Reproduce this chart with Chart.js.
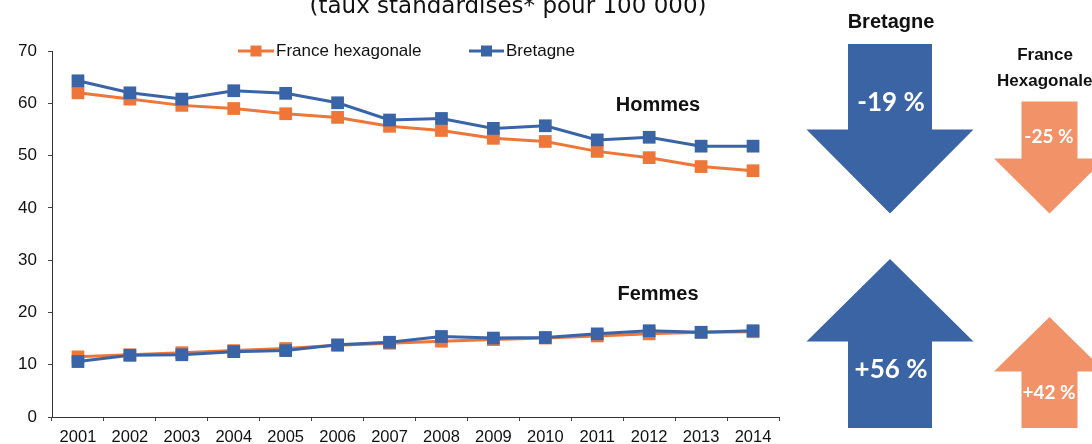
<!DOCTYPE html>
<html>
<head>
<meta charset="utf-8">
<script src="https://cdn.jsdelivr.net/npm/chart.js@4/dist/chart.umd.min.js"></script>
<style>
  html, body { margin: 0; padding: 0; background: #fff; }
  #wrap { position: relative; width: 1092px; height: 444px; overflow: hidden; }
</style>
</head>
<body>
<div id="wrap"><canvas id="myChart" width="1092" height="444"></canvas></div>
<script>
const years = ["2001", "2002", "2003", "2004", "2005", "2006", "2007", "2008", "2009", "2010", "2011", "2012", "2013", "2014"];
const franceHommes = [62.0, 60.8, 59.6, 59.0, 58.0, 57.3, 55.6, 54.8, 53.3, 52.7, 50.8, 49.6, 47.9, 47.1];
const bretagneHommes = [64.3, 62.0, 60.8, 62.4, 61.9, 60.1, 56.8, 57.1, 55.2, 55.7, 53.0, 53.5, 51.8, 51.8];
const franceFemmes = [11.5, 11.9, 12.3, 12.7, 13.1, 13.7, 14.1, 14.5, 14.8, 15.1, 15.5, 15.9, 16.2, 16.3];
const bretagneFemmes = [10.6, 11.8, 11.9, 12.5, 12.7, 13.8, 14.3, 15.4, 15.1, 15.2, 15.9, 16.5, 16.2, 16.5];
const yTicks = [0, 10, 20, 30, 40, 50, 60, 70];
const seriesNames = ["France hexagonale", "Bretagne"];
const evolBretagne = ["-19 %", "+56 %"];
const evolFrance = ["-25 %", "+42 %"];

const orange = "rgb(237, 118, 56)";
const blue = "rgb(58, 100, 168)";
const arrowBlue = "rgb(58, 100, 164)";
const arrowOrange = "rgb(242, 146, 104)";
const axisFont = "'Liberation Sans', Arial, sans-serif";

function lineSet(label, values, color) {
  return {
    label: label,
    data: values,
    borderColor: color,
    backgroundColor: color,
    borderWidth: 3,
    pointStyle: "rect",
    pointRadius: 9,
    pointHoverRadius: 9,
    pointBorderWidth: 0,
    tension: 0,
  };
}

// arrow: cx centre, tail y, head base y, tip y
function drawArrow(ctx, cx, shaftHalf, headHalf, tailY, baseY, tipY, color) {
  ctx.beginPath();
  ctx.moveTo(cx - shaftHalf, tailY);
  ctx.lineTo(cx + shaftHalf, tailY);
  ctx.lineTo(cx + shaftHalf, baseY);
  ctx.lineTo(cx + headHalf, baseY);
  ctx.lineTo(cx, tipY);
  ctx.lineTo(cx - headHalf, baseY);
  ctx.lineTo(cx - shaftHalf, baseY);
  ctx.closePath();
  ctx.fillStyle = color;
  ctx.fill();
}

const extras = {
  id: "extras",
  afterDraw(chart) {
    const ctx = chart.ctx;
    ctx.save();
    // title, cut at the top of the picture
    ctx.fillStyle = "#111";
    ctx.font = "23px 'DejaVu Sans', sans-serif";
    ctx.textAlign = "center";
    ctx.textBaseline = "alphabetic";
    ctx.fillText("(taux standardisés* pour 100 000)", 508, 13);

    // legend
    const legend = [[seriesNames[0], orange, 238, 274], [seriesNames[1], blue, 469, 504]];
    ctx.font = "17px " + axisFont;
    ctx.textAlign = "left";
    ctx.textBaseline = "middle";
    legend.forEach(function (l) {
      ctx.strokeStyle = l[1];
      ctx.lineWidth = 3;
      ctx.beginPath();
      ctx.moveTo(l[2], 51);
      ctx.lineTo(l[3], 51);
      ctx.stroke();
      ctx.fillStyle = l[1];
      const mid = (l[2] + l[3]) / 2;
      ctx.fillRect(mid - 5.5, 45.5, 11, 11);
      ctx.fillStyle = "#111";
      ctx.fillText(l[0], l[3] + 2, 51);
    });

    ctx.font = "bold 20px " + axisFont;
    ctx.textAlign = "center";
    ctx.fillStyle = "#111";
    ctx.fillText("Hommes", 658, 105);
    ctx.fillText("Femmes", 658, 294);

    // arrows
    drawArrow(ctx, 890, 42, 83.5, 44, 129.5, 213.5, arrowBlue);
    drawArrow(ctx, 890, 42, 83.5, 428, 341.5, 259, arrowBlue);
    drawArrow(ctx, 1049.5, 28, 55.5, 101.5, 158.5, 213.5, arrowOrange);
    drawArrow(ctx, 1049.5, 28, 55.5, 428, 371.5, 317, arrowOrange);

    ctx.fillStyle = "#111";
    ctx.font = "bold 20px 'Liberation Sans Narrow', 'Liberation Sans', sans-serif";
    ctx.fillText("Bretagne", 891, 22);
    ctx.font = "bold 17px 'Liberation Sans Narrow', 'Liberation Sans', sans-serif";
    ctx.fillText("France", 1045, 55);
    ctx.textAlign = "left";
    ctx.fillText("Hexagonale", 997, 81);

    ctx.textAlign = "center";
    ctx.fillStyle = "#fff";
    ctx.font = "bold 26px Lato, 'Open Sans', sans-serif";
    ctx.fillText(evolBretagne[0], 891, 103);
    ctx.fillText(evolBretagne[1], 891, 370);
    ctx.font = "bold 19px Lato, 'Open Sans', sans-serif";
    ctx.fillText(evolFrance[0], 1049, 137);
    ctx.fillText(evolFrance[1], 1049, 393);
    ctx.restore();
  },
};

const data = {
  labels: years,
  datasets: [
    lineSet(seriesNames[1], bretagneHommes, blue),
    lineSet(seriesNames[1], bretagneFemmes, blue),
    lineSet(seriesNames[0], franceHommes, orange),
    lineSet(seriesNames[0], franceFemmes, orange),
  ],
};

const config = {
  type: "line",
  data: data,
  plugins: [extras],
  options: {
    responsive: false,
    animation: false,
    events: [],
    layout: {
      padding: { top: 51, right: 313, bottom: 0, left: 0 },
    },
    plugins: {
      legend: { display: false },
      tooltip: { enabled: false },
    },
    scales: {
      x: {
        offset: true,
        grid: {
          display: true,
          offset: true,
          drawOnChartArea: false,
          drawTicks: true,
          tickLength: 4,
          color: "#444",
        },
        border: { color: "#333", width: 1 },
        ticks: {
          color: "#111",
          font: { family: axisFont, size: 16.5 },
          padding: 7,
          maxRotation: 0,
          autoSkip: false,
        },
        afterFit: function (s) { s.height = 27; },
      },
      y: {
        min: 0,
        max: 70,
        afterBuildTicks: function (s) { s.ticks = yTicks.map(function (v) { return { value: v }; }); },
        grid: {
          display: true,
          drawOnChartArea: false,
          drawTicks: true,
          tickLength: 4,
          color: "#444",
        },
        border: { color: "#333", width: 1 },
        ticks: {
          color: "#111",
          font: { family: axisFont, size: 17 },
          padding: 11,
        },
        afterFit: function (s) { s.width = 52; },
      },
    },
  },
};

const myChart = new Chart(document.getElementById("myChart"), config);
</script>
</body>
</html>
